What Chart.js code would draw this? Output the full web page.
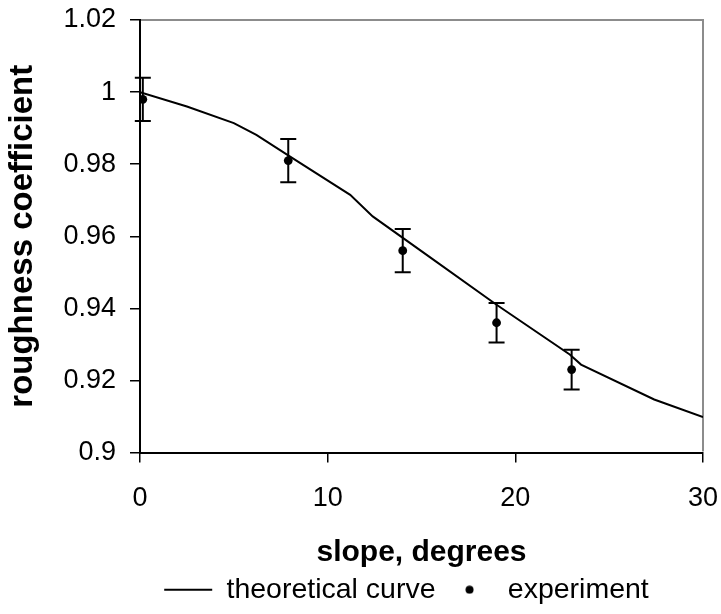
<!DOCTYPE html>
<html><head><meta charset="utf-8">
<script src="https://cdn.jsdelivr.net/npm/chart.js@4.4.1/dist/chart.umd.min.js"></script>
<style>html,body{margin:0;padding:0;background:#fff}#wrap{width:721px;height:614px;position:relative}</style>
</head><body><div id="wrap"><canvas id="c"></canvas></div>
<script>
// ---- data ----
const theoryX = [0, 2.5, 5, 6.2, 8, 11.2, 12.4, 15.5, 19, 22.9, 23.5, 27.4, 30];
const theoryY = [1.0, 0.996, 0.9914, 0.9881, 0.9821, 0.9715, 0.9655, 0.954, 0.941, 0.9272, 0.9244, 0.9147, 0.9098];
const expX = [0.15, 7.9, 14, 19, 23];
const expY = [0.998, 0.981, 0.956, 0.936, 0.923];
const expErr = [0.006, 0.006, 0.006, 0.0055, 0.0055];
const xTicks = [0, 10, 20, 30];
const yTicks = [0.9, 0.92, 0.94, 0.96, 0.98, 1, 1.02];
const yTickLabels = ['0.9', '0.92', '0.94', '0.96', '0.98', '1', '1.02'];
const seriesNames = ['theoretical curve', 'experiment'];
const xTitle = 'slope, degrees';
const yTitle = 'roughness coefficient';

const F = '"Liberation Sans", Arial, sans-serif';

const errorBars = {
  id: 'errorBars',
  afterDatasetsDraw(chart) {
    const {ctx, scales: {x, y}} = chart;
    ctx.save();
    ctx.strokeStyle = '#000';
    ctx.lineWidth = 2;
    expX.forEach((xv, i) => {
      const px = x.getPixelForValue(xv);
      const top = y.getPixelForValue(expY[i] + expErr[i]);
      const bot = y.getPixelForValue(expY[i] - expErr[i]);
      ctx.beginPath();
      ctx.moveTo(px, top); ctx.lineTo(px, bot);
      ctx.moveTo(px - 8, top); ctx.lineTo(px + 8, top);
      ctx.moveTo(px - 8, bot); ctx.lineTo(px + 8, bot);
      ctx.stroke();
    });
    ctx.restore();
  }
};

const frame = {
  id: 'frame',
  beforeDatasetsDraw(chart) {
    const {ctx, chartArea: a} = chart;
    ctx.save();
    ctx.strokeStyle = '#8c8c8c';
    ctx.lineWidth = 2;
    ctx.beginPath();
    ctx.moveTo(a.left + 1, a.top);
    ctx.lineTo(a.right, a.top);
    ctx.lineTo(a.right, a.bottom - 1);
    ctx.stroke();
    ctx.restore();
  }
};

const legendShift = {
  id: 'legendShift',
  afterLayout(chart) {
    const lg = chart.legend;
    lg.left += 55; lg.right += 55;
  }
};

const dot = document.createElement('canvas');
dot.width = 9; dot.height = 9;
(function () {
  const c = dot.getContext('2d');
  c.fillStyle = '#000';
  c.beginPath(); c.arc(4.5, 4.5, 4, 0, Math.PI * 2); c.fill();
})();

new Chart(document.getElementById('c'), {
  type: 'scatter',
  data: {
    datasets: [
      {
        label: seriesNames[0],
        data: theoryX.map((xv, i) => ({x: xv, y: theoryY[i]})),
        showLine: true,
        borderColor: '#000',
        backgroundColor: '#000',
        borderWidth: 2,
        pointRadius: 0,
        tension: 0
      },
      {
        label: seriesNames[1],
        data: expX.map((xv, i) => ({x: xv, y: expY[i]})),
        showLine: false,
        borderColor: '#000',
        backgroundColor: '#000',
        pointRadius: 4.4,
        borderWidth: 0
      }
    ]
  },
  options: {
    responsive: true,
    maintainAspectRatio: false,
    animation: false,
    layout: {padding: {left: 0, right: 18, top: 20, bottom: 0}},
    plugins: {
      tooltip: {enabled: false},
      legend: {
        position: 'bottom',
        align: 'center',
        labels: {
          usePointStyle: true,
          pointStyleWidth: 48,
          boxHeight: 6,
          padding: 10,
          color: '#000',
          font: {family: F, size: 28.5},
          generateLabels() {
            return [
              {text: seriesNames[0], pointStyle: 'line', strokeStyle: '#000', fillStyle: '#000', lineWidth: 2, datasetIndex: 0, hidden: false},
              {text: seriesNames[1], pointStyle: dot, strokeStyle: '#000', fillStyle: '#000', lineWidth: 0, datasetIndex: 1, hidden: false}
            ];
          }
        }
      }
    },
    scales: {
      x: {
        type: 'linear', min: 0, max: 30,
        afterBuildTicks(s) { s.ticks = xTicks.map(v => ({value: v})); },
        afterFit(s) { s.height = 113; s.paddingLeft = 0; s.paddingRight = 0; },
        ticks: {font: {family: F, size: 27}, color: '#000', padding: 20, maxRotation: 0},
        grid: {drawOnChartArea: false, tickLength: 10, color: '#000', lineWidth: 1.5},
        border: {color: '#000', width: 2},
        title: {display: true, text: xTitle, color: '#000', font: {family: F, size: 30, weight: 'bold'}, padding: {top: 0, bottom: -5}}
      },
      y: {
        type: 'linear', min: 0.9, max: 1.02,
        afterBuildTicks(s) { s.ticks = yTicks.map(v => ({value: v})); },
        afterFit(s) { s.width = 140; s.paddingTop = 0; s.paddingBottom = 0; },
        ticks: {font: {family: F, size: 27}, color: '#000', padding: 14, callback: (v, i) => yTickLabels[i]},
        grid: {drawOnChartArea: false, tickLength: 10, color: '#000', lineWidth: 1.5},
        border: {color: '#000', width: 2},
        title: {display: true, text: yTitle, color: '#000', font: {family: F, size: 33, weight: 'bold'}, padding: {top: 3, bottom: 0}}
      }
    }
  },
  plugins: [frame, errorBars, legendShift]
});
</script>
</body></html>
